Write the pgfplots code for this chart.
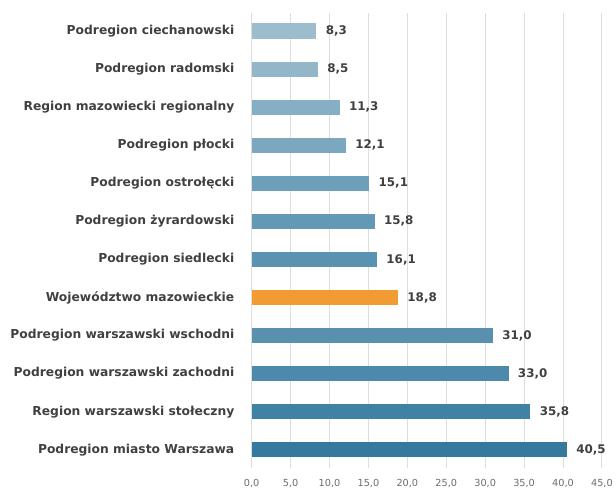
\documentclass[border=0pt]{standalone}
\usepackage{pgfplots}
\pgfplotsset{compat=1.18}
\usepackage{fontspec}
\setmainfont{DejaVu Sans}
\definecolor{c1}{HTML}{9DBDCE}
\definecolor{c2}{HTML}{93B6C9}
\definecolor{c3}{HTML}{86AEC4}
\definecolor{c4}{HTML}{7BA7BF}
\definecolor{c5}{HTML}{6E9FBA}
\definecolor{c6}{HTML}{6399B5}
\definecolor{c7}{HTML}{5A93B1}
\definecolor{corange}{HTML}{F29B33}
\definecolor{c9}{HTML}{5890AE}
\definecolor{c10}{HTML}{4D89AA}
\definecolor{c11}{HTML}{3F82A4}
\definecolor{c12}{HTML}{357A9D}
\definecolor{txt}{HTML}{404040}
\begin{document}
\begin{tikzpicture}
\begin{axis}[
  at={(0,0)}, anchor=south west,
  scale only axis, width=352bp, height=457bp,
  xmin=0, xmax=45, xtick={0,5,...,45},
  ymin=-0.48, ymax=11.47, y dir=reverse,
  ytick={0,...,11},
  yticklabels={Podregion ciechanowski, Podregion radomski, Region mazowiecki regionalny, Podregion płocki, Podregion ostrołęcki, Podregion żyrardowski, Podregion siedlecki, Województwo mazowieckie, Podregion warszawski wschodni, Podregion warszawski zachodni, Region warszawski stołeczny, Podregion miasto Warszawa},
  yticklabel style={font=\bfseries\fontsize{12.4}{14}\selectfont, text=txt, xshift=-14bp},
  xticklabel style={font=\fontsize{9.8}{11}\selectfont, text=gray!85!black, yshift=-8bp},
  /pgf/number format/.cd, fixed, fixed zerofill, precision=1, use comma, assume math mode=true,
  /pgfplots/.cd,
  xmajorgrids, grid style={draw=black!13, line width=0.9pt},
  axis line style={draw=none}, major tick length=0pt,
  xbar, bar width=15.5bp, bar shift=0pt,
  nodes near coords,
  nodes near coords style={font=\bfseries\fontsize{12}{14}\selectfont, text=txt, anchor=west, xshift=6bp},
]
\addplot[fill=c1, draw=none] coordinates {(8.3,0)};
\addplot[fill=c2, draw=none] coordinates {(8.5,1)};
\addplot[fill=c3, draw=none] coordinates {(11.3,2)};
\addplot[fill=c4, draw=none] coordinates {(12.1,3)};
\addplot[fill=c5, draw=none] coordinates {(15.1,4)};
\addplot[fill=c6, draw=none] coordinates {(15.8,5)};
\addplot[fill=c7, draw=none] coordinates {(16.1,6)};
\addplot[fill=corange, draw=none] coordinates {(18.8,7)};
\addplot[fill=c9, draw=none] coordinates {(31.0,8)};
\addplot[fill=c10, draw=none] coordinates {(33.0,9)};
\addplot[fill=c11, draw=none] coordinates {(35.8,10)};
\addplot[fill=c12, draw=none] coordinates {(40.5,11)};
\end{axis}
\path[use as bounding box] (-253bp,-19bp) rectangle (363bp,470bp);
\end{tikzpicture}
\end{document}
